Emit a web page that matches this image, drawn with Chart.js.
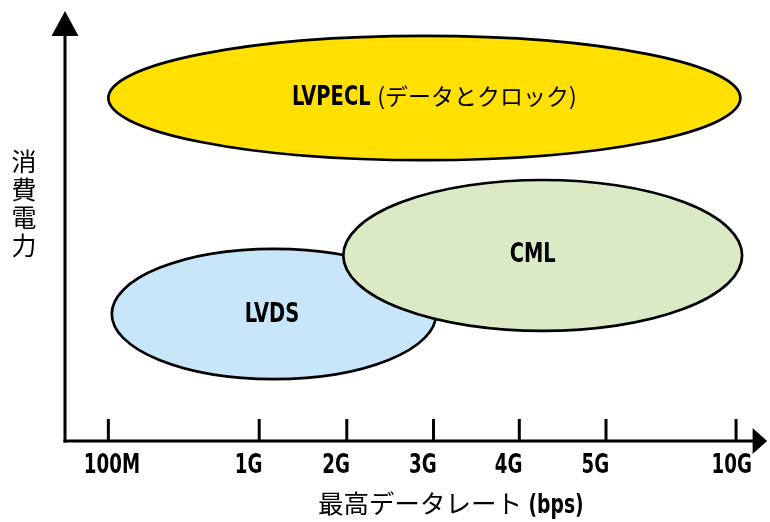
<!DOCTYPE html>
<html>
<head>
<meta charset="utf-8">
<script src="https://cdn.jsdelivr.net/npm/chart.js@4/dist/chart.umd.min.js"></script>
<style>
  html, body { margin: 0; padding: 0; background: #fff; }
  canvas { display: block; }
</style>
</head>
<body>
<canvas id="chart" width="770" height="522"></canvas>
<script>
// Data-rate axis: labels and their positions along the (non-uniform) rate axis
const rateLabels = ['100M', '1G', '2G', '3G', '4G', '5G', '10G'];
const ratePositions = [0, 1.74, 2.75, 3.75, 4.74, 5.74, 7.24];

// Interface families and the region each covers (rate span × power span)
const families = ['LVPECL', 'LVDS', 'CML'];
const familyNotes = ['(データとクロック)', '', ''];
const rateFrom = [0.0, 0.04, 2.71];
const rateTo = [7.29, 3.78, 7.31];
const powerFrom = [6.53, 1.44, 2.56];
const powerTo = [9.42, 4.47, 6.07];

const xTitle = '最高データレート';
const xUnit = '(bps)';
const yTitle = '消費電力';

const COND = '"DejaVu Sans Condensed", "DejaVu Sans", sans-serif';
const CJK = '"Noto Sans CJK JP", "Noto Sans", sans-serif';
const fills = ['#FFE000', '#C8E6F9', '#D9EAC5'];
// small nudges so each name sits where it reads best inside its ellipse
const nameNudge = { LVPECL: [10, 0], LVDS: [-2, 1], CML: [-10, 0] };

// Draw a run of text segments (each with its own font and horizontal squeeze)
// on an alphabetic baseline; align is 'left' or 'center'
function drawRun(ctx, segs, x, baseline, align) {
  ctx.textBaseline = 'alphabetic';
  ctx.textAlign = 'left';
  let total = 0;
  segs.forEach(s => {
    ctx.font = s.font;
    s.w = ctx.measureText(s.text).width * (s.sx || 1);
    total += s.w;
  });
  let cx = align === 'center' ? x - total / 2 : x;
  segs.forEach(s => {
    ctx.save();
    ctx.font = s.font;
    ctx.translate(cx, baseline);
    ctx.scale(s.sx || 1, 1);
    ctx.fillText(s.text, 0, 0);
    ctx.restore();
    cx += s.w;
  });
}

// Axis lines with arrowheads, upward tick marks and the rate labels
const arrowAxes = {
  id: 'arrowAxes',
  beforeDatasetsDraw(chart) {
    const { ctx, chartArea: { left, right, top, bottom }, scales: { x } } = chart;
    ctx.save();
    ctx.strokeStyle = '#000';
    ctx.fillStyle = '#000';
    ctx.lineWidth = 3;
    // vertical axis
    ctx.beginPath();
    ctx.moveTo(left, bottom + 1.5);
    ctx.lineTo(left, top + 20);
    ctx.stroke();
    ctx.beginPath();
    ctx.moveTo(left, top);
    ctx.lineTo(left - 13.5, top + 25);
    ctx.lineTo(left + 13.5, top + 25);
    ctx.closePath();
    ctx.fill();
    // horizontal axis
    ctx.beginPath();
    ctx.moveTo(left - 1.5, bottom);
    ctx.lineTo(right - 4, bottom);
    ctx.stroke();
    ctx.beginPath();
    ctx.moveTo(right + 8.5, bottom);
    ctx.lineTo(right - 6, bottom - 13);
    ctx.lineTo(right - 6, bottom + 13);
    ctx.closePath();
    ctx.fill();
    // tick marks and their labels (labels start a little left of the mark)
    x.ticks.forEach((t, i) => {
      const px = x.getPixelForValue(t.value);
      ctx.beginPath();
      ctx.moveTo(px, bottom);
      ctx.lineTo(px, bottom - 22);
      ctx.stroke();
      drawRun(ctx, [{ text: rateLabels[i], font: `bold 27px ${COND}`, sx: 0.75 }], px - 24.5, bottom + 31.5, 'left');
    });
    ctx.restore();
  }
};

// Filled ellipses for each family's region, with their names
const ellipses = {
  id: 'ellipses',
  afterDatasetsDraw(chart) {
    const { ctx, scales: { x, y } } = chart;
    ctx.save();
    families.forEach((name, i) => {
      const ds = chart.data.datasets[i];
      const l = x.getPixelForValue(rateFrom[i]);
      const r = x.getPixelForValue(rateTo[i]);
      const t = y.getPixelForValue(powerTo[i]);
      const b = y.getPixelForValue(powerFrom[i]);
      ctx.beginPath();
      ctx.ellipse((l + r) / 2, (t + b) / 2, (r - l) / 2, (b - t) / 2, 0, 0, Math.PI * 2);
      ctx.fillStyle = ds.backgroundColor;
      ctx.fill();
      ctx.lineWidth = ds.borderWidth;
      ctx.strokeStyle = ds.borderColor;
      ctx.stroke();
    });
    ctx.fillStyle = '#000';
    families.forEach((name, i) => {
      const pt = chart.getDatasetMeta(i).data[0];
      const [dx, dy] = nameNudge[name] || [0, 0];
      const segs = [{ text: name, font: `bold 27px ${COND}`, sx: 0.8 }];
      if (familyNotes[i]) {
        segs.push({ text: ' ', font: `bold 27px ${COND}`, sx: 0.8 });
        segs.push({ text: familyNotes[i], font: `23px ${CJK}` });
      }
      drawRun(ctx, segs, pt.x + dx, pt.y + 7 + dy, 'center');
    });
    ctx.restore();
  }
};

// Axis titles: horizontal one below the labels, vertical one stacked character by character
const axisTitles = {
  id: 'axisTitles',
  afterDraw(chart) {
    const { ctx, chartArea: { left, right, bottom } } = chart;
    ctx.save();
    ctx.fillStyle = '#000';
    drawRun(ctx, [
      { text: xTitle, font: `25.5px ${CJK}` },
      { text: ' ', font: `bold 26px ${COND}`, sx: 0.8 },
      { text: xUnit, font: `bold 26px ${COND}`, sx: 0.8 }
    ], (left + right) / 2 + 39, bottom + 72, 'center');
    ctx.font = `25px ${CJK}`;
    ctx.textAlign = 'center';
    ctx.textBaseline = 'middle';
    Array.from(yTitle).forEach((ch, i) => ctx.fillText(ch, left - 41, 161.5 + i * 28));
    ctx.restore();
  }
};

new Chart(document.getElementById('chart'), {
  type: 'scatter',
  data: {
    datasets: families.map((name, i) => ({
      label: name,
      data: [{ x: (rateFrom[i] + rateTo[i]) / 2, y: (powerFrom[i] + powerTo[i]) / 2 }],
      backgroundColor: fills[i],
      borderColor: '#000',
      borderWidth: 2.7,
      pointRadius: 0,
      pointHoverRadius: 0
    }))
  },
  options: {
    responsive: false,
    animation: false,
    events: [],
    layout: { padding: { left: 65, right: 11.4, top: 11, bottom: 0 } },
    plugins: { legend: { display: false }, tooltip: { enabled: false } },
    scales: {
      x: {
        type: 'linear',
        min: -0.5,
        max: 7.5,
        afterBuildTicks: s => { s.ticks = ratePositions.map(v => ({ value: v })); },
        afterFit: s => { s.height = 81; },
        grid: { display: false },
        border: { display: false },
        ticks: { display: false }
      },
      y: {
        type: 'linear',
        min: 0,
        max: 10,
        display: false
      }
    }
  },
  plugins: [arrowAxes, ellipses, axisTitles]
});
</script>
</body>
</html>
